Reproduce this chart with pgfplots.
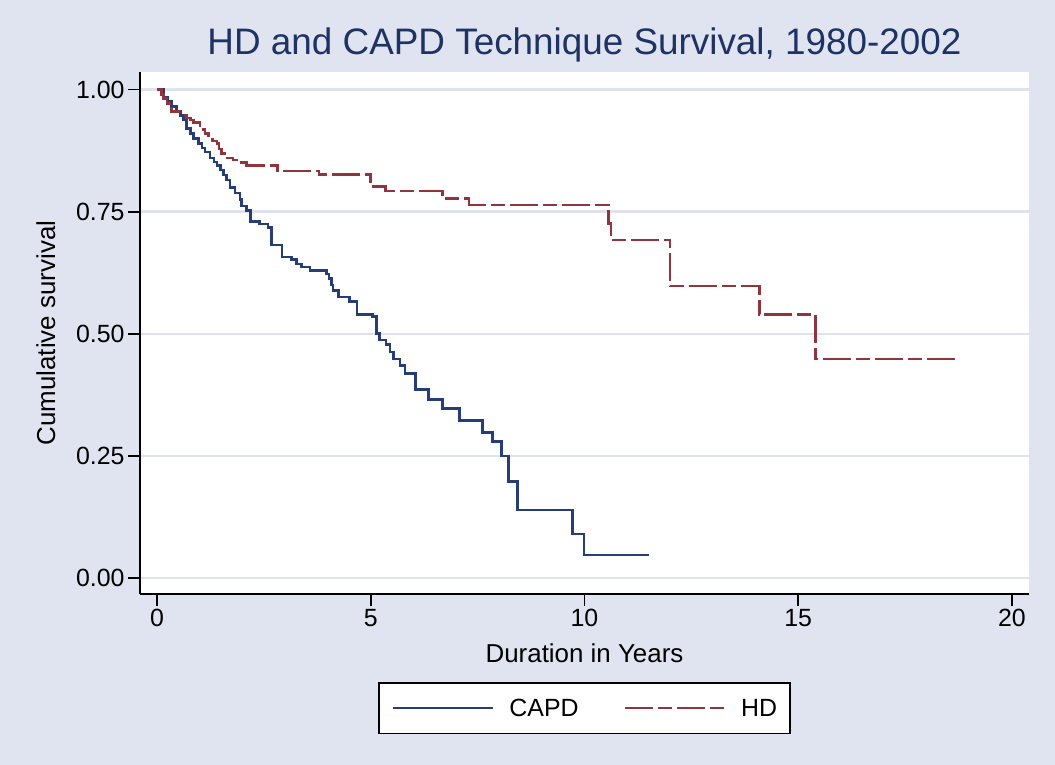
\documentclass[border=0pt]{standalone}
\usepackage{pgfplots}
\pgfplotsset{compat=1.18}
\usepackage{fontspec}
\setmainfont{Liberation Sans}
\definecolor{bgcol}{RGB}{223,228,240}
\definecolor{gridcol}{RGB}{222,226,238}
\definecolor{capdcol}{RGB}{38,62,120}
\definecolor{hdcol}{RGB}{144,53,59}
\definecolor{titlecol}{RGB}{30,50,100}
\begin{document}
\begin{tikzpicture}[x=1bp,y=1bp]
\fill[bgcol] (0,0) rectangle (1055,765);
\begin{axis}[
  at={(140bp,171bp)}, anchor=south west,
  scale only axis, width=889bp, height=522bp,
  xmin=-0.398, xmax=20.4, ymin=-0.0328, ymax=1.036,
  axis x line*=bottom, axis y line*=left,
  axis line style={line width=1.8bp, black, -},
  xtick={0,5,10,15,20}, ytick={0,0.25,0.5,0.75,1},
  xticklabels={0,5,10,15,20},
  yticklabels={0.00,0.25,0.50,0.75,1.00},
  tick align=outside, major tick length=12bp,
  tick style={line width=1.8bp, black},
  ymajorgrids, grid style={line width=2.5bp, color=gridcol},
  axis background/.style={fill=white},
  tick label style={font=\fontsize{25}{30}\selectfont},
  /pgf/number format/assume math mode=true,
  title={HD and CAPD Technique Survival, 1980-2002},
  title style={at={(axis description cs:0.5,1.023)}, anchor=base, font=\fontsize{37}{44}\selectfont, text=titlecol},
  xlabel={Duration in Years},
  xlabel style={at={(axis description cs:0.5,-0.1303)}, anchor=base, font=\fontsize{26}{31}\selectfont},
  ylabel={Cumulative survival},
  ylabel style={at={(axis description cs:-0.0956,0.5)}, anchor=base, rotate=0, font=\fontsize{26}{31}\selectfont},
  legend style={at={(axis description cs:0.5,-0.1686)}, anchor=north, draw=black, line width=1.5bp, fill=white,
    font=\fontsize{25}{30}\selectfont, inner xsep=13bp, inner ysep=16bp,
    nodes={inner sep=0bp},
    /tikz/every odd column/.append style={column sep=15bp},
    /tikz/every even column/.append style={column sep=45bp}},
  legend columns=2,
  legend image code/.code={\draw[#1] (0bp,0bp) -- (100bp,0bp);},
]
\addplot[const plot, color=capdcol, line width=2.6bp] coordinates {
(0.00,1.000) (0.15,0.985) (0.25,0.975) (0.34,0.965) (0.46,0.955) (0.55,0.947)
(0.62,0.938) (0.69,0.920) (0.78,0.910) (0.85,0.900) (0.97,0.890) (1.05,0.880)
(1.12,0.872) (1.24,0.860) (1.33,0.852) (1.40,0.845) (1.48,0.835) (1.55,0.825)
(1.62,0.815) (1.71,0.800) (1.82,0.788) (1.94,0.775) (1.98,0.762) (2.10,0.753)
(2.19,0.730) (2.40,0.725) (2.60,0.718) (2.68,0.682) (2.92,0.657) (3.15,0.652)
(3.27,0.643) (3.38,0.637) (3.58,0.630) (3.97,0.622) (4.02,0.613) (4.08,0.600)
(4.12,0.588) (4.24,0.575) (4.51,0.566) (4.68,0.540) (5.04,0.535) (5.14,0.501)
(5.20,0.487) (5.36,0.478) (5.45,0.463) (5.53,0.448) (5.68,0.435) (5.80,0.419)
(6.05,0.386) (6.35,0.366) (6.68,0.347) (7.07,0.322) (7.62,0.298) (7.85,0.279)
(8.06,0.250) (8.22,0.197) (8.43,0.139) (9.72,0.090) (9.99,0.047) (11.50,0.047)
};
\addlegendentry{CAPD}
\addplot[const plot, color=hdcol, line width=2.6bp, dash pattern=on 28bp off 5bp on 14bp off 5bp] coordinates {
(0.00,1.000) (0.10,0.990) (0.15,0.982) (0.23,0.972) (0.30,0.962) (0.34,0.955)
(0.54,0.948) (0.69,0.942) (0.78,0.938) (0.85,0.933) (1.01,0.926) (1.08,0.918)
(1.12,0.910) (1.20,0.902) (1.30,0.895) (1.40,0.889) (1.45,0.878) (1.51,0.869)
(1.59,0.860) (1.78,0.856) (1.94,0.851) (2.10,0.845) (2.82,0.833) (3.79,0.826)
(5.00,0.802) (5.35,0.792) (6.68,0.777) (7.30,0.764) (10.56,0.726) (10.62,0.692)
(12.00,0.598) (14.09,0.540) (15.41,0.448) (18.78,0.448)
};
\addlegendentry{HD}
\end{axis}
\end{tikzpicture}
\end{document}
